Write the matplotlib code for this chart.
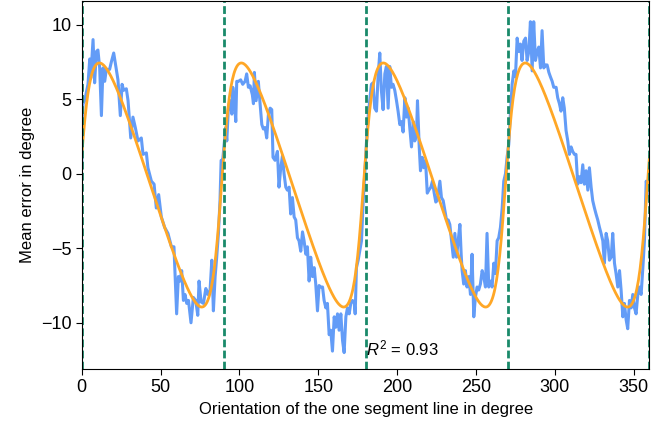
import matplotlib
matplotlib.use("Agg")
import matplotlib.pyplot as plt
import numpy as np

# orientation (deg) and mean error (deg)
deg = [0.0, 0.8, 1.9, 4.0, 5.1, 5.7, 7.2, 8.2, 9.3, 10.3, 11.4, 12.5, 13.5, 14.6, 15.6, 17.7, 18.8,
       20.3, 21.5, 23.0, 24.5, 25.6, 26.6, 28.3, 29.4, 31.1, 32.5, 34.0, 35.7, 37.8, 38.9, 41.0, 42.0,
       44.2, 45.9, 47.3, 48.8, 50.5, 52.6, 54.7, 56.9, 58.5,
       60.2, 61.3, 62.4, 63.4, 64.5, 65.5, 66.6, 67.7, 69.3, 70.8, 72.3, 73.6, 74.4, 75.7, 77.2, 78.7,
       79.9, 81.4, 82.5, 83.5, 84.6, 85.6, 86.7, 87.7, 88.4, 89.4, 90.5, 91.3, 92.0, 93.0, 94.1, 95.2,
       95.8, 96.8, 97.7, 98.3, 99.4, 100.8, 102.1, 103.6, 104.6, 105.7, 106.8, 108.2, 108.9, 109.5,
       110.6, 112.0, 113.1, 114.2, 115.2, 116.3, 117.3, 118.4, 119.5,
       120.5, 121.3, 122.6, 124.1, 125.1, 126.2, 127.3, 128.3, 129.4, 130.4, 131.5, 132.5, 133.6,
       134.7, 135.7, 136.8, 137.8, 138.9, 140.0, 141.0, 142.1, 143.1, 144.2, 145.2, 146.3, 147.4,
       148.4, 149.5, 150.5, 151.6, 152.7, 153.7, 154.8, 155.8, 156.9, 157.9, 159.0, 160.1, 161.1,
       162.2, 163.2, 164.3, 165.4, 166.4, 167.5, 168.5, 169.6, 170.6, 171.7, 172.8, 173.4, 174.2,
       175.3, 176.3, 177.4, 178.5, 179.5,
       180.5, 181.6, 182.6, 183.7, 184.7, 185.8, 186.9, 187.9, 189.0, 190.0, 191.1, 192.2, 193.2,
       194.3, 195.3, 196.4, 197.4, 198.5, 199.6, 200.6, 201.7, 202.7, 203.8, 204.9, 205.9, 207.0,
       208.0, 209.1, 210.2, 211.2, 212.3, 212.9, 214.0, 214.8, 215.9, 216.9, 218.0, 219.1, 220.1,
       221.4, 222.4, 223.5, 224.5, 225.4, 227.1, 228.1, 229.2, 230.3, 231.3, 232.4, 233.4, 234.5,
       235.6, 236.6, 237.7, 238.7,
       239.8, 240.6, 241.2, 242.2, 243.3, 244.3, 245.4, 246.5, 247.5, 248.6, 249.6, 250.7, 251.7,
       252.8, 253.9, 254.9, 256.0, 257.0, 258.1, 259.2, 260.2, 261.3, 262.3, 263.4, 264.4, 265.5,
       266.6, 267.6, 268.7, 269.7, 270.8, 271.8, 272.9, 274.0, 275.0, 276.1, 277.1, 278.2, 279.2,
       280.3, 281.4, 282.4, 283.5, 284.5, 285.6, 286.6, 287.7, 288.8, 289.8, 290.9, 291.9, 293.0,
       294.0, 295.1, 296.2, 297.2, 298.3, 299.3,
       300.8, 301.8, 302.9, 303.9, 305.0, 306.0, 307.1, 308.2, 309.2, 310.3, 311.3, 312.4, 313.4,
       314.5, 315.6, 316.6, 317.7, 318.7, 319.8, 320.9, 321.9, 323.0, 324.0, 325.1, 326.1, 327.2,
       328.3, 329.3, 330.4, 331.4, 332.5, 333.5, 334.6, 335.7, 336.7, 337.8, 338.8, 339.9, 341.0,
       342.0, 343.1, 344.1, 345.2, 346.2, 347.3, 348.4, 349.4, 350.5, 351.5, 352.6, 353.6, 354.7,
       355.8, 356.8, 357.9, 358.9, 360.0]
err = [0.6, 4.7, 4.9, 6.0, 7.7, 6.4, 9.0, 6.1, 8.2, 8.3, 7.1, 3.9, 7.1, 6.2, 7.0, 7.0, 7.5,
       8.1, 7.3, 6.3, 3.9, 6.0, 5.6, 5.7, 4.9, 2.4, 3.8, 3.1, 2.2, 2.4, 1.3, 1.4, 0.4,
       -0.5, -0.7, -2.3, -1.4, -2.9, -3.6, -4.0, -4.9, -4.9,
       -9.4, -6.9, -7.2, -6.5, -8.5, -8.1, -8.7, -8.5, -10.0, -8.3, -8.5, -9.5, -7.2, -8.6, -8.7, -7.7,
       -8.1, -7.8, -5.8, -9.2, -6.9, -5.6, -4.0, -1.8, 0.9, 0.9, 2.2, 3.1, 2.2, 4.4, 4.9, 4.0,
       5.8, 4.9, 3.5, 6.2, 6.2, 6.3, 6.0, 6.2, 6.7, 5.8, 5.9, 5.3, 4.7, 6.8,
       4.9, 6.2, 4.7, 3.3, 3.0, 3.1, 2.4, 4.0, 4.4,
       4.3, 1.1, 0.9, 1.5, -0.9, 0.4, 1.2, 0.0, -0.9, -1.1, -0.9, -2.7, -1.6,
       -2.9, -3.1, -4.3, -4.5, -5.2, -3.9, -4.5, -5.4, -4.9, -7.2, -5.6, -6.9, -6.3,
       -7.4, -9.2, -7.5, -7.6, -7.6, -8.5, -9.0, -8.7, -10.8, -10.5, -11.9, -9.6, -10.3,
       -9.4, -10.5, -9.4, -11.2, -12.0, -9.6, -9.0, -9.4, -8.7, -8.5, -8.7, -9.4, -6.3,
       -5.8, -5.2, -4.5, -1.8, 0.0,
       2.0, 3.8, 4.9, 6.0, 6.1, 4.4, 4.2, 6.5, 8.1, 5.6, 4.3, 6.7, 7.2,
       4.4, 7.2, 5.8, 6.0, 5.6, 4.9, 4.2, 3.3, 3.5, 2.8, 5.1, 3.8, 4.4,
       3.1, 1.8, 3.5, 2.2, 2.7, 4.9, 1.8, 0.2, 1.1, 0.4, 0.9, -1.3, -1.1,
       -0.9, -0.5, -1.3, -1.9, -1.8, -0.5, -1.6, -1.8, -2.5, -3.1, -3.1, -3.4, -4.5,
       -5.6, -4.0, -5.6, -4.5,
       -3.4, -5.4, -6.5, -7.4, -6.5, -7.6, -6.9, -8.1, -5.4, -9.6, -8.3, -7.6, -7.8,
       -7.4, -6.5, -6.9, -7.6, -4.0, -7.6, -7.2, -7.6, -6.0, -6.7, -4.5, -4.3, -3.6,
       -2.3, -0.5, 0.0, 1.1, 2.0, 4.0, 6.0, 6.9, 6.5, 9.1, 8.2, 8.7, 7.6,
       8.9, 9.1, 7.6, 8.2, 10.2, 6.9, 10.2, 7.6, 8.2, 8.5, 7.1, 9.6, 7.1,
       7.3, 7.3, 6.8, 6.5, 6.2, 5.8,
       5.8, 5.1, 4.7, 4.2, 5.1, 4.4, 2.9, 2.2, 1.3, 1.8, 1.5, 1.3, 1.3,
       -0.7, -0.2, -0.6, 0.6, -0.7, 0.2, -1.1, 0.4, -0.9, -1.8, -2.3, -2.7, -3.1,
       -3.6, -4.0, -4.5, -6.0, -4.0, -4.5, -5.8, -5.6, -4.0, -6.0, -6.7, -7.6, -6.5,
       -7.8, -9.6, -8.7, -9.8, -10.4, -8.5, -9.0, -8.1, -9.0, -9.4, -8.1, -7.6, -8.1,
       -6.3, -4.5, -0.5, -0.9, -1.8]
r2_text = "$R^2$ = 0.93"
boundaries = [0, 90, 180, 270, 360]

plt.rcParams["font.family"] = ["Liberation Sans", "DejaVu Sans"]
plt.rcParams["mathtext.fontset"] = "custom"
plt.rcParams["mathtext.rm"] = "Liberation Sans"
plt.rcParams["mathtext.it"] = "Liberation Sans:italic"

x = np.array(deg); y = np.array(err)


def skew_wave(w, k, p):
    # smooth sawtooth-like wave: fast rise, slow fall
    t = w - p
    return np.arctan2(k * np.sin(t), 1 - k * np.cos(t))


# fit d + a*skew_wave(4x), period 90: grid over k/phase, linear for a, d
w = np.deg2rad(x) * 4
best = None
for k in np.arange(0.05, 0.86, 0.01):
    for p in np.arange(0, 2 * np.pi, 0.01):
        g = skew_wave(w, k, p)
        A = np.column_stack([np.ones_like(g), g])
        c, *_ = np.linalg.lstsq(A, y, rcond=None)
        r = np.sum((A @ c - y) ** 2)
        if best is None or r < best[0]:
            best = (r, k, p, c)
_, k_b, p_b, c_b = best
xf = np.linspace(0, 360, 721)
yf = c_b[0] + c_b[1] * skew_wave(np.deg2rad(xf) * 4, k_b, p_b)

fig = plt.figure(figsize=(6.62, 4.25), dpi=100)
ax = fig.add_axes([0.1234, 0.1318, 0.8577, 0.8662])
ax.plot(x, y, color="#639CF7", lw=2.2)
ax.plot(xf, yf, color="#FFA726", lw=2)
for b in boundaries:
    ax.axvline(b, color="#1a8a6a", lw=2, ls=(0, (2.8, 1.2)))
ax.text(180, -12.2, r2_text, fontsize=12)
ax.set_xlim(0, 360); ax.set_ylim(-13.1, 11.6)
ax.set_xticks([0, 50, 100, 150, 200, 250, 300, 350])
ax.set_yticks([-10, -5, 0, 5, 10])
ax.tick_params(labelsize=13, length=4)
ax.set_xlabel("Orientation of the one segment line in degree", fontsize=12)
ax.set_ylabel("Mean error in degree", fontsize=12)
fig.savefig("out.png", dpi=100)
